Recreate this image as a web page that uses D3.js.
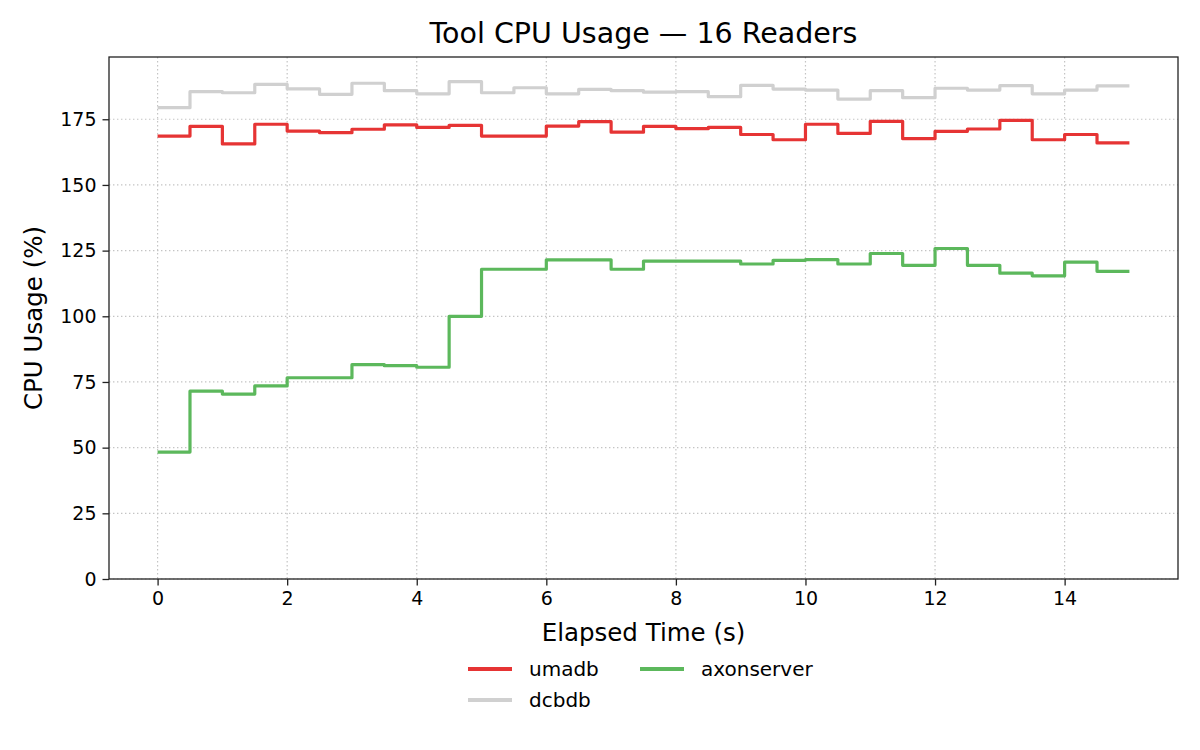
<!DOCTYPE html>
<html lang="en">
<head>
<meta charset="UTF-8">
<title>Tool CPU Usage</title>
<script src="https://d3js.org/d3.v7.min.js"></script>
<style>
  body { margin: 0; background: #fff; font-family: "DejaVu Sans", sans-serif; }
  svg { display: block; }
  .tick text { fill: #000; }
</style>
</head>
<body>

<svg id="chart"></svg>

<script>
const width = 1200, height = 750;
const margin = { top: 57, right: 22, bottom: 171, left: 109 };

// ==== data ====
const times = [0, 0.5, 1, 1.5, 2, 2.5, 3, 3.5, 4, 4.5, 5, 5.5, 6, 6.5, 7, 7.5,
               8, 8.5, 9, 9.5, 10, 10.5, 11, 11.5, 12, 12.5, 13, 13.5, 14, 14.5, 15];
const umadb = [168.6, 172.3, 165.6, 173.1, 170.5, 169.9, 171.2, 172.9, 171.9, 172.7,
               168.6, 168.6, 172.4, 174.1, 170.1, 172.3, 171.4, 171.9, 169.2, 167.2,
               173.1, 169.6, 174.2, 167.6, 170.4, 171.3, 174.6, 167.2, 169.2, 166.0, 166.0];
const dcbdb = [179.4, 185.5, 185.1, 188.3, 186.6, 184.5, 188.7, 185.9, 184.7, 189.3,
               185.1, 187.0, 184.7, 186.4, 185.9, 185.3, 185.5, 183.6, 187.9, 186.5,
               186.1, 182.7, 185.9, 183.2, 186.8, 186.1, 187.8, 184.7, 186.1, 187.7, 187.7];
const axonserver = [48.3, 71.5, 70.4, 73.5, 76.6, 76.6, 81.6, 81.2, 80.6, 100.0,
                    117.9, 117.9, 121.5, 121.5, 117.9, 121.0, 121.0, 121.0, 119.9, 121.3,
                    121.6, 119.9, 123.9, 119.4, 125.8, 119.4, 116.4, 115.4, 120.6, 117.1, 117.1];

const xTicks = [0, 2, 4, 6, 8, 10, 12, 14];
const yTicks = [0, 25, 50, 75, 100, 125, 150, 175];

const series = [
  { name: "umadb", values: umadb, color: "#e63434" },
  { name: "dcbdb", values: dcbdb, color: "#d0d0d0" },
  { name: "axonserver", values: axonserver, color: "#5cb85c" }
];

const svg = d3.select("#chart").attr("width", width).attr("height", height);
const iw = width - margin.left - margin.right;
const ih = height - margin.top - margin.bottom;
const g = svg.append("g").attr("transform", `translate(${margin.left},${margin.top})`);

// matplotlib-like 5% margins on x
const x = d3.scaleLinear().domain([-0.75, 15.75]).range([0, iw]);
const y = d3.scaleLinear().domain([0, 198.7]).range([ih, 0]);

// grid
const gridStyle = sel => sel.attr("stroke", "#c4c4c4").attr("stroke-width", 1.2)
  .attr("stroke-dasharray", "1.4,2.6");
g.append("g").selectAll("line").data(xTicks).enter().append("line")
  .attr("x1", d => x(d)).attr("x2", d => x(d)).attr("y1", 0).attr("y2", ih)
  .call(gridStyle);
g.append("g").selectAll("line").data(yTicks).enter().append("line")
  .attr("x1", 0).attr("x2", iw).attr("y1", d => y(d)).attr("y2", d => y(d))
  .call(gridStyle);

// step lines (where='post')
const line = d3.line().curve(d3.curveStepAfter)
  .x((d, i) => x(times[i])).y(d => y(d));

series.forEach(s => {
  g.append("path").datum(s.values)
    .attr("d", line)
    .attr("fill", "none")
    .attr("stroke", s.color)
    .attr("stroke-width", 3.2)
    .attr("stroke-linejoin", "round")
    .attr("stroke-linecap", "butt");
});

// axes
const xAxis = g.append("g").attr("transform", `translate(0,${ih})`)
  .call(d3.axisBottom(x).tickValues(xTicks).tickSize(6.5).tickPadding(6));
const yAxis = g.append("g")
  .call(d3.axisLeft(y).tickValues(yTicks).tickSize(6.5).tickPadding(6));
[xAxis, yAxis].forEach(a => {
  a.select(".domain").remove();
  a.selectAll(".tick line").attr("stroke", "#222").attr("stroke-width", 1.3);
  a.selectAll(".tick text").style("font-family", "DejaVu Sans").style("font-size", "19px");
});

// frame
g.append("rect").attr("width", iw).attr("height", ih)
  .attr("fill", "none").attr("stroke", "#222").attr("stroke-width", 1.3);

// title and labels
svg.append("text").attr("x", margin.left + iw / 2).attr("y", 43)
  .attr("text-anchor", "middle").style("font-size", "28.5px").text("Tool CPU Usage — 16 Readers");
svg.append("text").attr("x", margin.left + iw / 2).attr("y", 641)
  .attr("text-anchor", "middle").style("font-size", "24.5px").text("Elapsed Time (s)");
svg.append("text")
  .attr("transform", `translate(42,${margin.top + ih / 2}) rotate(-90)`)
  .attr("text-anchor", "middle").style("font-size", "24.5px").text("CPU Usage (%)");

// legend: two columns, column-first order
const legendPos = [
  { x: 468, y: 669 },
  { x: 468, y: 700 },
  { x: 640, y: 669 }
];
const legend = svg.append("g");
series.forEach((s, i) => {
  const p = legendPos[i];
  legend.append("line").attr("x1", p.x).attr("x2", p.x + 44).attr("y1", p.y).attr("y2", p.y)
    .attr("stroke", s.color).attr("stroke-width", 4);
  legend.append("text").attr("x", p.x + 61).attr("y", p.y + 7)
    .style("font-size", "20px").text(s.name);
});
</script>
</body>
</html>
